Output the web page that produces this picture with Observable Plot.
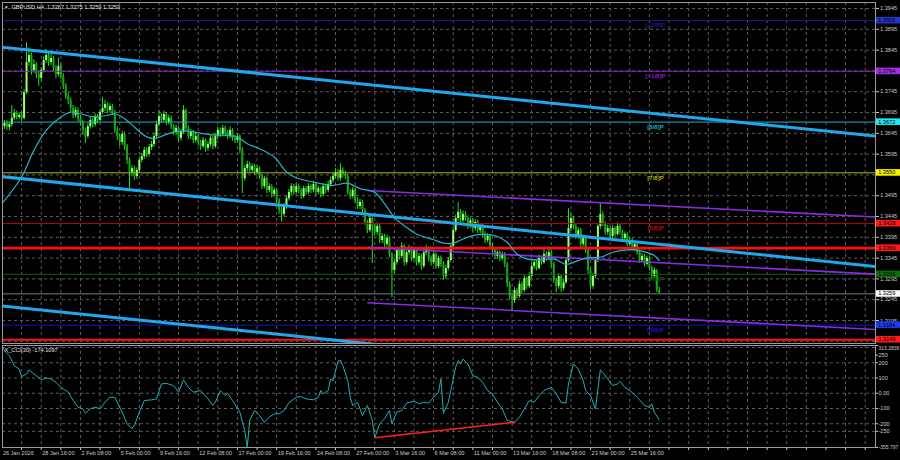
<!DOCTYPE html>
<html><head><meta charset="utf-8">
<script src="https://cdn.jsdelivr.net/npm/d3@7"></script>
<script src="https://cdn.jsdelivr.net/npm/@observablehq/plot@0.6"></script>
<style>
html,body{margin:0;padding:0;background:#000;}
#wrap{position:relative;width:900px;height:460px;background:#000;overflow:hidden;}
#main,#cci{position:absolute;left:0;}
#main{top:0;} #cci{top:344px;}
svg{display:block;}
</style></head><body><div id="wrap"><div id="main"></div><div id="cci"></div></div>
<script>
// ---------- DATA (GBPUSD H4, bar 0 = 26 Jan 2026 00:00) ----------
const headerText = "GBPUSD,H4  1.3267 1.3275 1.3259 1.3259";
const cciHeader = "X_CCI(30) -174.1097";

const opens = [
1.3655,1.3661,1.3669,1.3659,1.3666,1.3681,1.3693,1.3683,1.3688,1.3681,
1.3743,1.3815,1.3832,1.3796,1.3810,1.3786,1.3777,1.3796,1.3820,1.3832,
1.3815,1.3825,1.3801,1.3786,1.3806,1.3782,1.3758,1.3733,1.3724,1.3705,
1.3688,1.3700,1.3681,1.3671,1.3652,1.3637,1.3661,1.3676,1.3666,1.3685,
1.3676,1.3695,1.3705,1.3714,1.3700,1.3709,1.3695,1.3652,1.3637,1.3623,
1.3642,1.3613,1.3580,1.3551,1.3560,1.3541,1.3556,1.3580,1.3589,1.3604,
1.3594,1.3611,1.3618,1.3637,1.3666,1.3685,1.3676,1.3690,1.3671,1.3681,
1.3661,1.3647,1.3657,1.3633,1.3647,1.3700,1.3657,1.3637,1.3647,1.3628,
1.3637,1.3623,1.3613,1.3628,1.3609,1.3618,1.3633,1.3613,1.3637,1.3652,
1.3642,1.3657,1.3647,1.3637,1.3652,1.3633,1.3628,1.3637,1.3604,1.3536,
1.3560,1.3570,1.3556,1.3565,1.3551,1.3560,1.3541,1.3517,1.3536,1.3508,
1.3517,1.3498,1.3508,1.3484,1.3459,1.3450,1.3469,1.3488,1.3503,1.3517,
1.3503,1.3517,1.3508,1.3493,1.3512,1.3503,1.3517,1.3508,1.3522,1.3503,
1.3512,1.3498,1.3517,1.3508,1.3522,1.3532,1.3541,1.3551,1.3536,1.3556,
1.3546,1.3541,1.3503,1.3493,1.3508,1.3484,1.3469,1.3479,1.3459,1.3431,
1.3411,1.3440,1.3421,1.3407,1.3421,1.3387,1.3397,1.3378,1.3392,1.3354,
1.3315,1.3334,1.3363,1.3349,1.3373,1.3334,1.3358,1.3368,1.3344,1.3363,
1.3334,1.3349,1.3325,1.3358,1.3368,1.3344,1.3334,1.3354,1.3325,1.3344,
1.3330,1.3301,1.3320,1.3339,1.3373,1.3411,1.3440,1.3455,1.3435,1.3450,
1.3440,1.3421,1.3435,1.3416,1.3431,1.3411,1.3421,1.3402,1.3387,1.3397,
1.3373,1.3363,1.3349,1.3358,1.3344,1.3354,1.3330,1.3282,1.3253,1.3243,
1.3267,1.3253,1.3282,1.3267,1.3296,1.3277,1.3301,1.3325,1.3334,1.3320,
1.3344,1.3334,1.3354,1.3344,1.3358,1.3330,1.3291,1.3277,1.3301,1.3272,
1.3286,1.3339,1.3416,1.3440,1.3421,1.3397,1.3411,1.3378,1.3392,1.3363,
1.3315,1.3277,1.3301,1.3339,1.3421,1.3450,1.3426,1.3407,1.3416,1.3397,
1.3416,1.3402,1.3421,1.3407,1.3392,1.3402,1.3378,1.3387,1.3368,1.3378,
1.3358,1.3339,1.3349,1.3330,1.3344,1.3320,1.3301,1.3315,1.3267];

const closes = [
1.3661,1.3669,1.3659,1.3666,1.3681,1.3693,1.3683,1.3688,1.3681,1.3743,
1.3815,1.3832,1.3796,1.3810,1.3786,1.3777,1.3796,1.3820,1.3832,1.3815,
1.3825,1.3801,1.3786,1.3806,1.3782,1.3758,1.3733,1.3724,1.3705,1.3688,
1.3700,1.3681,1.3671,1.3652,1.3637,1.3661,1.3676,1.3666,1.3685,1.3676,
1.3695,1.3705,1.3714,1.3700,1.3709,1.3695,1.3652,1.3637,1.3623,1.3642,
1.3613,1.3580,1.3551,1.3560,1.3541,1.3556,1.3580,1.3589,1.3604,1.3594,
1.3611,1.3618,1.3637,1.3666,1.3685,1.3676,1.3690,1.3671,1.3681,1.3661,
1.3647,1.3657,1.3633,1.3647,1.3700,1.3657,1.3637,1.3647,1.3628,1.3637,
1.3623,1.3613,1.3628,1.3609,1.3618,1.3633,1.3613,1.3637,1.3652,1.3642,
1.3657,1.3647,1.3637,1.3652,1.3633,1.3628,1.3637,1.3604,1.3536,1.3560,
1.3570,1.3556,1.3565,1.3551,1.3560,1.3541,1.3517,1.3536,1.3508,1.3517,
1.3498,1.3508,1.3484,1.3459,1.3450,1.3469,1.3488,1.3503,1.3517,1.3503,
1.3517,1.3508,1.3493,1.3512,1.3503,1.3517,1.3508,1.3522,1.3503,1.3512,
1.3498,1.3517,1.3508,1.3522,1.3532,1.3541,1.3551,1.3536,1.3556,1.3546,
1.3541,1.3503,1.3493,1.3508,1.3484,1.3469,1.3479,1.3459,1.3431,1.3411,
1.3440,1.3421,1.3407,1.3421,1.3387,1.3397,1.3378,1.3392,1.3354,1.3315,
1.3334,1.3363,1.3349,1.3373,1.3334,1.3358,1.3368,1.3344,1.3363,1.3334,
1.3349,1.3325,1.3358,1.3368,1.3344,1.3334,1.3354,1.3325,1.3344,1.3330,
1.3301,1.3320,1.3339,1.3373,1.3411,1.3440,1.3455,1.3435,1.3450,1.3440,
1.3421,1.3435,1.3416,1.3431,1.3411,1.3421,1.3402,1.3387,1.3397,1.3373,
1.3363,1.3349,1.3358,1.3344,1.3354,1.3330,1.3282,1.3253,1.3243,1.3267,
1.3253,1.3282,1.3267,1.3296,1.3277,1.3301,1.3325,1.3334,1.3320,1.3344,
1.3334,1.3354,1.3344,1.3358,1.3330,1.3291,1.3277,1.3301,1.3272,1.3286,
1.3339,1.3416,1.3440,1.3421,1.3397,1.3411,1.3378,1.3392,1.3363,1.3315,
1.3277,1.3301,1.3339,1.3421,1.3450,1.3426,1.3407,1.3416,1.3397,1.3416,
1.3402,1.3421,1.3407,1.3392,1.3402,1.3378,1.3387,1.3368,1.3378,1.3358,
1.3339,1.3349,1.3330,1.3344,1.3320,1.3301,1.3315,1.3267,1.3259];

const highs = [
1.3668,1.3676,1.3675,1.3672,1.3712,1.3702,1.3698,1.3695,1.3694,1.3750,
1.3863,1.3850,1.3838,1.3822,1.3815,1.3794,1.3803,1.3830,1.3846,1.3838,
1.3836,1.3830,1.3808,1.3826,1.3812,1.3788,1.3764,1.3742,1.3730,1.3712,
1.3708,1.3706,1.3688,1.3676,1.3658,1.3668,1.3684,1.3682,1.3692,1.3690,
1.3702,1.3731,1.3724,1.3718,1.3716,1.3714,1.3700,1.3660,1.3644,1.3650,
1.3648,1.3618,1.3586,1.3568,1.3566,1.3562,1.3588,1.3596,1.3612,1.3610,
1.3618,1.3626,1.3645,1.3674,1.3700,1.3692,1.3698,1.3695,1.3688,1.3686,
1.3666,1.3664,1.3662,1.3654,1.3712,1.3704,1.3662,1.3654,1.3652,1.3644,
1.3642,1.3628,1.3635,1.3632,1.3625,1.3640,1.3638,1.3644,1.3660,1.3658,
1.3664,1.3662,1.3652,1.3660,1.3656,1.3640,1.3644,1.3642,1.3610,1.3568,
1.3578,1.3576,1.3572,1.3570,1.3567,1.3564,1.3546,1.3542,1.3540,1.3524,
1.3522,1.3514,1.3512,1.3488,1.3466,1.3476,1.3495,1.3510,1.3524,1.3522,
1.3524,1.3523,1.3512,1.3518,1.3517,1.3524,1.3522,1.3530,1.3526,1.3518,
1.3516,1.3524,1.3522,1.3530,1.3540,1.3550,1.3560,1.3558,1.3572,1.3562,
1.3554,1.3546,1.3510,1.3515,1.3512,1.3490,1.3486,1.3484,1.3464,1.3436,
1.3448,1.3446,1.3428,1.3430,1.3426,1.3404,1.3402,1.3400,1.3396,1.3358,
1.3342,1.3370,1.3368,1.3382,1.3378,1.3366,1.3376,1.3372,1.3370,1.3368,
1.3356,1.3354,1.3366,1.3376,1.3372,1.3350,1.3362,1.3358,1.3350,1.3350,
1.3336,1.3328,1.3346,1.3380,1.3418,1.3448,1.3479,1.3462,1.3458,1.3456,
1.3446,1.3442,1.3440,1.3438,1.3436,1.3428,1.3426,1.3408,1.3404,1.3402,
1.3380,1.3368,1.3364,1.3362,1.3360,1.3358,1.3334,1.3288,1.3260,1.3274,
1.3272,1.3290,1.3288,1.3304,1.3300,1.3310,1.3332,1.3342,1.3340,1.3352,
1.3350,1.3366,1.3360,1.3372,1.3362,1.3334,1.3296,1.3308,1.3306,1.3294,
1.3346,1.3464,1.3452,1.3446,1.3426,1.3418,1.3416,1.3400,1.3396,1.3368,
1.3320,1.3308,1.3346,1.3428,1.3476,1.3456,1.3432,1.3424,1.3420,1.3424,
1.3420,1.3430,1.3426,1.3412,1.3408,1.3406,1.3394,1.3392,1.3384,1.3382,
1.3362,1.3356,1.3354,1.3350,1.3348,1.3326,1.3322,1.3318,1.3275];

const lows = [
1.3648,1.3654,1.3652,1.3651,1.3660,1.3676,1.3677,1.3678,1.3673,1.3677,
1.3738,1.3806,1.3785,1.3789,1.3776,1.3758,1.3770,1.3790,1.3812,1.3806,
1.3808,1.3794,1.3777,1.3780,1.3774,1.3750,1.3726,1.3714,1.3697,1.3680,
1.3682,1.3672,1.3662,1.3640,1.3620,1.3632,1.3655,1.3658,1.3660,1.3668,
1.3670,1.3690,1.3698,1.3692,1.3694,1.3688,1.3644,1.3628,1.3614,1.3616,
1.3604,1.3570,1.3512,1.3540,1.3532,1.3534,1.3550,1.3574,1.3582,1.3586,
1.3588,1.3604,1.3612,1.3630,1.3660,1.3668,1.3670,1.3664,1.3665,1.3654,
1.3640,1.3640,1.3624,1.3626,1.3642,1.3650,1.3630,1.3630,1.3620,1.3622,
1.3615,1.3604,1.3608,1.3600,1.3602,1.3612,1.3606,1.3608,1.3630,1.3635,
1.3636,1.3640,1.3630,1.3632,1.3626,1.3620,1.3622,1.3596,1.3500,1.3530,
1.3552,1.3548,1.3550,1.3544,1.3545,1.3534,1.3510,1.3512,1.3500,1.3502,
1.3490,1.3492,1.3476,1.3450,1.3431,1.3444,1.3462,1.3482,1.3496,1.3496,
1.3498,1.3500,1.3486,1.3488,1.3496,1.3498,1.3500,1.3502,1.3496,1.3497,
1.3490,1.3492,1.3500,1.3502,1.3516,1.3526,1.3535,1.3530,1.3530,1.3538,
1.3534,1.3496,1.3486,1.3488,1.3476,1.3462,1.3462,1.3452,1.3424,1.3404,
1.3406,1.3332,1.3398,1.3400,1.3380,1.3380,1.3370,1.3372,1.3346,1.3250,
1.3306,1.3328,1.3340,1.3344,1.3326,1.3328,1.3352,1.3336,1.3338,1.3326,
1.3328,1.3316,1.3320,1.3352,1.3336,1.3326,1.3328,1.3318,1.3320,1.3322,
1.3292,1.3294,1.3314,1.3334,1.3368,1.3406,1.3434,1.3428,1.3430,1.3434,
1.3414,1.3416,1.3408,1.3410,1.3404,1.3404,1.3394,1.3380,1.3382,1.3366,
1.3356,1.3342,1.3342,1.3336,1.3338,1.3322,1.3274,1.3244,1.3219,1.3236,
1.3246,1.3248,1.3260,1.3262,1.3270,1.3272,1.3296,1.3318,1.3314,1.3316,
1.3328,1.3330,1.3338,1.3340,1.3322,1.3284,1.3262,1.3270,1.3262,1.3266,
1.3282,1.3334,1.3410,1.3414,1.3390,1.3390,1.3370,1.3372,1.3356,1.3306,
1.3268,1.3270,1.3296,1.3334,1.3414,1.3420,1.3400,1.3400,1.3390,1.3392,
1.3396,1.3398,1.3400,1.3386,1.3386,1.3372,1.3372,1.3362,1.3362,1.3352,
1.3332,1.3334,1.3324,1.3326,1.3314,1.3294,1.3296,1.3262,1.3259];

// moving average (cyan) read at bar positions
const maBars = [0,8,13,18,24,28,32,37,43,46,50,54,58,62,66,70,76,81,86,92,96,100,105,111,116,120,130,135,141,146,152,156,160,164,169,176,180,184,188,192,196,202,206,210,214,220,225,230,235,239,244,249,255,260,266,268];
const maVals = [1.3476,1.3540,1.3604,1.3652,1.3684,1.3696,1.3692,1.3685,1.3688,1.3692,1.3680,1.3660,1.3640,1.3632,1.3640,1.3648,1.3650,1.3645,1.3641,1.3640,1.3636,1.3620,1.3608,1.3588,1.3552,1.3538,1.3524,1.3520,1.3525,1.3512,1.3503,1.3476,1.3443,1.3423,1.3403,1.3389,1.3381,1.3381,1.3391,1.3399,1.3402,1.3397,1.3383,1.3355,1.3343,1.3341,1.3343,1.3330,1.3339,1.3346,1.3347,1.3359,1.3365,1.3363,1.3351,1.3339];

// CCI(30)
const cciBars = [0,1,3,5,7,8,10,11,13,16,18,20,22,24,27,29,31,33,34,36,38,40,42,44,46,48,49,51,53,54,56,58,61,63,65,67,70,72,74,76,78,81,84,86,87,89,91,92,94,97,99,100,101,103,105,107,109,111,113,115,117,120,122,124,127,129,130,131,133,134,135,137,138,139,141,142,143,145,147,149,151,152,154,156,158,159,161,163,165,168,170,172,174,176,178,179,180,182,183,185,186,187,188,190,192,194,196,198,200,202,204,206,209,211,213,215,217,219,221,224,226,228,230,231,233,235,237,238,240,242,244,245,247,249,251,252,254,256,259,262,264,265,266,268];
const cciVals = [313.28,279,246,181,159,109,127,153,127,88,101,94,72,39,7,-48,-92,-102,-131,-102,-92,-102,-59,-26,-26,-92,-124,-200,-233,-211,-124,-48,-43,-37,61,65,50,7,88,39,7,18,-37,-80,-59,18,-15,0,-48,-124,-244,-355.80,-178,-113,-146,-190,-157,-135,-135,-113,-62,-26,-22,-37,-43,-26,18,-4,18,94,83,209,218,181,83,-26,-80,-59,-146,-80,-178,-292,-200,-167,-113,-200,-124,-113,-65,-52,-69,-59,-65,-26,7,94,-131,-59,18,170,214,192,225,192,116,105,72,18,-4,-59,-102,-178,-190,-157,-102,-48,-59,-15,18,39,-4,-59,-65,61,192,159,83,18,-15,-102,153,137,94,50,61,78,39,18,-26,-80,-92,-69,-124,-174.11];
const cciMin = -355.7977, cciMax = 313.2836;
const cciTickValues = [313.2836,250,200,100,0,-100,-200,-250,-355.7977];
const cciTickText = ["313.2836","250","200","100","0.00","-100","-200","-250","-355.797"];
const cciGrid = [300,200,100,0,-100,-200,-250];
const divBars = [152, 209];
const divVals = [-292, -190];

// trend lines (bar, price)
const tlNames = ["up","mid","low","pUp","pMid","pLow"];
const tlBar1 = [-0.6,-0.6,-0.6,149,149,149];
const tlPrice1 = [1.3852,1.35412,1.32303,1.35075,1.33712,1.32375];
const tlBar2 = [356.2,356.2,356.2,356.2,356.2,356.2];
const tlPrice2 = [1.36385,1.33248,1.30142,1.34438,1.33065,1.31734];
const tlColor = ["#1ea8ee","#1ea8ee","#1ea8ee","#8a2be2","#8a2be2","#8a2be2"];
const tlWidth = [3,3,3,1.6,1.6,1.6];

// Murray levels
const mmLabels = ["[+2/8]P","[+1/8]P","[8/8]P","[7/8]P","[6/8]P","[5/8]P","[4/8]P"];
const mmLevels = [1.3916,1.3794,1.3672,1.3550,1.3428,1.3306,1.3184];
const mmColors = ["#1c1c8e","#8a1fc0","#18b4c4","#b4b41e","#c00000","#0b5e0b","#1414c8"];
const mmBoxColors = ["#2436c8","#a030e0","#20e8f4","#f4f400","#ff1a1a","#0c6e0c","#1c3cf0"];
// other horizontal levels
const hLevels = [1.3369,1.3149,1.3259];
const hColors = ["#ff1010","#ff1010","#7a7a7a"];
const hWidths = [2.6,2,1];
const hBoxColors = ["#ff1a1a","#ff1a1a","#f8f8f8"];

// axes
const priceGrid = [1.3945,1.3895,1.3845,1.3795,1.3745,1.3695,1.3645,1.3595,1.3545,1.3495,1.3445,1.3395,1.3345,1.3295,1.3245,1.3195,1.3145];
const priceTickLabels = [1.3945,1.3895,1.3845,1.3745,1.3695,1.3645,1.3595,1.3495,1.3445,1.3395,1.3345,1.3295,1.3245,1.3195];
const gridBars = [8,16,24,32,40,48,56,64,72,80,88,96,104,112,120,128,136,144,152,160,168,176,184,192,200,208,216,224,232,240,248,256,264,272,280,288,296,304,312,320,328,336,344,352];
const labelBars = [0,16,32,48,64,80,96,112,128,144,160,176,192,208,224,240,256];
const timeLabels = ["26 Jan 2026","28 Jan 16:00","2 Feb 08:00","5 Feb 00:00","9 Feb 16:00","12 Feb 08:00","17 Feb 00:00","19 Feb 16:00","24 Feb 08:00","27 Feb 00:00","3 Mar 16:00","6 Mar 08:00","11 Mar 00:00","13 Mar 16:00","18 Mar 08:00","23 Mar 00:00","25 Mar 16:00"];

// ---------- BUILD ----------
const FONT = "'Liberation Sans', Arial, sans-serif";
const FS = "5.6px";
const xDomain = [0.2, 356.2];
const candles = closes.map((c, i) => ({i, o: opens[i], h: highs[i], l: lows[i], c}));
const ma = maBars.map((b, k) => ({b, v: maVals[k]}));
const cci = cciBars.map((b, k) => ({b, v: cciVals[k]}));
const tls = tlNames.map((n, k) => ({n, x1: tlBar1[k], y1: tlPrice1[k], x2: tlBar2[k], y2: tlPrice2[k], c: tlColor[k], w: tlWidth[k]}));
const mm = mmLabels.map((t, k) => ({t, v: mmLevels[k], c: mmColors[k], bc: mmBoxColors[k]}));
const hl = hLevels.map((v, k) => ({v, c: hColors[k], w: hWidths[k], bc: hBoxColors[k]}));
const timeData = labelBars.map((b, k) => ({b, t: timeLabels[k]}));
const grid = {stroke: "#5c5c5c", strokeDasharray: "3,3", strokeWidth: 1};

const main = Plot.plot({
  width: 900, height: 346,
  marginTop: 2, marginBottom: 3, marginLeft: 2, marginRight: 25,
  style: {background: "#000", color: "#c8c8c8", fontFamily: FONT, fontSize: FS},
  color: {type: "identity"},
  x: {domain: xDomain, axis: null},
  y: {domain: [1.313971, 1.395942], ticks: priceTickLabels, tickFormat: d => d.toFixed(4), axis: "right", tickSize: 3, tickPadding: 1.5, label: null},
  marks: [
    Plot.ruleY(priceGrid, grid),
    Plot.ruleX(gridBars, grid),
    Plot.ruleX(candles, {x: "i", y1: "l", y2: "h", stroke: "#1ee41e", strokeWidth: 1, clip: true}),
    Plot.ruleX(candles, {x: "i", y1: "o", y2: "c", stroke: d => d.c >= d.o ? "#9cff6c" : "#17a817", strokeWidth: 2, clip: true}),
    Plot.ruleY(mm, {y: "v", stroke: "c", strokeWidth: 1}),
    Plot.ruleY(hl, {y: "v", stroke: "c", strokeWidth: "w"}),
    Plot.link(tls, {x1: "x1", y1: "y1", x2: "x2", y2: "y2", stroke: "c", strokeWidth: "w", clip: true}),
    Plot.line(ma, {x: "b", y: "v", stroke: "#22b4c6", strokeWidth: 1.2, curve: "catmull-rom", clip: true}),
    Plot.text(mm, {y: "v", text: "t", fill: "c", frameAnchor: "right", dx: -220, dy: 5, fontSize: 6, fontWeight: "bold", textAnchor: "middle"}),
    Plot.text([headerText], {text: d => d, frameAnchor: "top-left", dx: 9, dy: 2.3, textAnchor: "start", lineAnchor: "top", fill: "#e6e6e6"}),
    Plot.text(["\u25BC"], {text: d => d, frameAnchor: "top-left", dx: 1.5, dy: 3, textAnchor: "start", lineAnchor: "top", fill: "#e6e6e6", fontSize: 4.5}),
    Plot.frame({stroke: "#9a9a9a"})
  ]
});
document.getElementById("main").appendChild(main);
// lift the 1.3195 axis label a touch so it clears the 1.3184 box below it
d3.select(main).selectAll("text").filter(function(){ return this.textContent === "1.3195"; }).attr("dy", "0.1em");

// price boxes on the right axis, positioned with Plot's own y scale
const yS = main.scale("y");
const boxes = mm.map(d => ({v: d.v, bc: d.bc})).concat(hl.map(d => ({v: d.v, bc: d.bc})));
const gB = d3.select(main).append("g").attr("font-family", FONT).attr("font-size", FS).attr("text-anchor", "start");
boxes.forEach(d => {
  const y = yS.apply(d.v);
  gB.append("rect").attr("x", 876).attr("y", y - 3.2).attr("width", 24).attr("height", 6.6).attr("fill", d.bc);
  gB.append("text").attr("x", 878.2).attr("y", y + 0.1).attr("dy", "0.35em").attr("text-anchor", "start").attr("fill", "#000").text(d.v.toFixed(4));
});

const cciPlot = Plot.plot({
  width: 900, height: 116,
  marginTop: 1, marginBottom: 13, marginLeft: 2, marginRight: 25,
  style: {background: "#000", color: "#c8c8c8", fontFamily: FONT, fontSize: FS},
  x: {domain: xDomain, ticks: gridBars, tickFormat: () => "", tickSize: 3, label: null},
  y: {domain: [cciMin, cciMax], ticks: cciTickValues, tickFormat: d => cciTickText[cciTickValues.indexOf(d)], axis: "right", tickSize: 2, tickPadding: 1, label: null},
  marks: [
    Plot.ruleY(cciGrid, grid),
    Plot.ruleX(gridBars, grid),
    Plot.line(cci, {x: "b", y: "v", stroke: "#1fb0b4", strokeWidth: 1, clip: true}),
    Plot.line(divBars.map((b, k) => ({b, v: divVals[k]})), {x: "b", y: "v", stroke: "#ff2020", strokeWidth: 1.5}),
    Plot.text([cciHeader], {text: d => d, frameAnchor: "top-left", dx: 2, dy: 2.5, textAnchor: "start", lineAnchor: "top", fill: "#e6e6e6"}),
    Plot.text(timeData, {x: "b", text: "t", frameAnchor: "bottom", dx: 1, dy: 3.5, textAnchor: "start", lineAnchor: "top", fill: "#c8c8c8"}),
    Plot.frame({stroke: "#9a9a9a"})
  ]
});
document.getElementById("cci").appendChild(cciPlot);
// shrink the two long extreme CCI labels so they stay inside the page
d3.select(cciPlot).selectAll("text").filter(function(){ const t = this.textContent; return t === "313.2836" || t === "-355.797"; }).attr("font-size", "5px").attr("dy", function(){ return this.textContent === "313.2836" ? "0.6em" : "0em"; });
</script></body></html>
